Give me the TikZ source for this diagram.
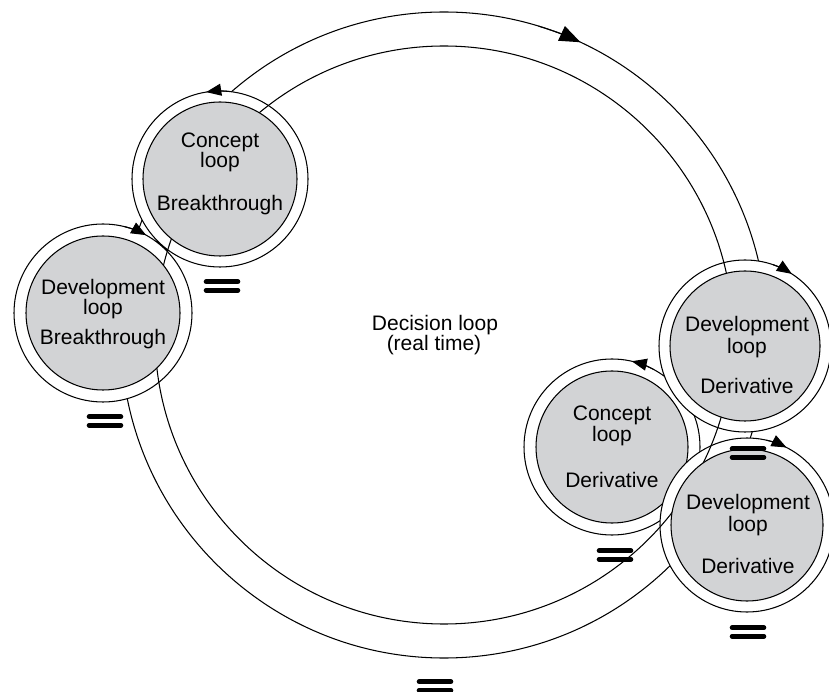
\documentclass[tikz,border=0pt]{standalone}
\usepackage{fontspec}
\setmainfont{Liberation Sans}
\usetikzlibrary{arrows.meta}
\definecolor{loopgray}{RGB}{210,211,213}
\tikzset{
  ln/.style={line width=1.05pt},
  lbl/.style={anchor=base, inner sep=0pt, font=\fontsize{21}{21}\selectfont},
  eqbar/.style={line width=5pt, line cap=round},
  looptip/.style={ln, -{Triangle[length=15pt,width=12pt]}},
  bigtip/.style={ln, -{Triangle[length=21pt,width=16pt]}},
  eqsign/.pic={\draw[eqbar] (-15.8,4.2) -- (15.8,4.2) (-15.8,-4.2) -- (15.8,-4.2);}
}
\begin{document}
\begin{tikzpicture}[x=1pt,y=1pt]
\useasboundingbox (0,0) rectangle (829,691);
\coordinate (big) at (444,356);
\coordinate (cbt) at (220,512);
\coordinate (dbt) at (103,378);
\coordinate (cdv) at (612,244);
\coordinate (tdv) at (745,345);
\coordinate (bdv) at (747,166);

% big ring outer line
\draw[ln] (big) circle[radius=323pt];
% loops covering the outer line
\fill[white] (cbt) circle[radius=88pt] (dbt) circle[radius=89pt];
% concept loop derivative (behind the two right loops)
\draw[ln, fill=white] (cdv) circle[radius=88pt];
\draw[ln, fill=loopgray] (cdv) circle[radius=76pt];
\node[lbl] (cdv1) at (612,270) {Concept};
\node[lbl] (cdv2) at (612,250) {loop};
\node[lbl] (cdv3) at (612,204) {Derivative};
\draw[looptip] ([shift={(62:88pt)}]cdv) arc[start angle=62, end angle=77, radius=88pt];
\fill[white] (tdv) circle[radius=86pt] (bdv) circle[radius=87pt];
% big ring inner line
\draw[ln] (big) circle[radius=289pt];
% loop outer lines
\draw[ln] (cbt) circle[radius=88pt] (dbt) circle[radius=89pt]
          (tdv) circle[radius=86pt] (bdv) circle[radius=87pt];
% loop cores
\draw[ln, fill=loopgray] (cbt) circle[radius=77pt] (dbt) circle[radius=77pt]
          (tdv) circle[radius=75pt] (bdv) circle[radius=76pt];

% arrows
\draw[bigtip] ([shift={(73:323pt)}]big) arc[start angle=73, end angle=65, radius=323pt];
\draw[looptip] ([shift={(84:88pt)}]cbt) arc[start angle=84, end angle=99, radius=88pt];
\draw[looptip] ([shift={(76:89pt)}]dbt) arc[start angle=76, end angle=61, radius=89pt];
\draw[looptip] ([shift={(71:86pt)}]tdv) arc[start angle=71, end angle=57, radius=86pt];
\draw[looptip] ([shift={(77:87pt)}]bdv) arc[start angle=77, end angle=63, radius=87pt];

% texts
\node[lbl] (cbt1) at (220,543) {Concept};
\node[lbl] (cbt2) at (220,523) {loop};
\node[lbl] (cbt3) at (220,480) {Breakthrough};
\node[lbl] (dbt1) at (103,396) {Development};
\node[lbl] (dbt2) at (103,376) {loop};
\node[lbl] (dbt3) at (103,346) {Breakthrough};
\node[lbl] (tdv1) at (747,359) {Development};
\node[lbl] (tdv2) at (747,337) {loop};
\node[lbl] (tdv3) at (747,297) {Derivative};
\node[lbl] (bdv1) at (748,182) {Development};
\node[lbl] (bdv2) at (748,160) {loop};
\node[lbl] (bdv3) at (748,118) {Derivative};
\node[lbl] (dec1) at (435,360) {Decision loop};
\node[lbl] (dec2) at (434,340) {(real time)};

% equals signs
\pic at (222,405) {eqsign};
\pic at (105,270) {eqsign};
\pic at (615,136) {eqsign};
\pic at (748,238) {eqsign};
\pic at (748,59) {eqsign};
\pic at (435,5) {eqsign};
\end{tikzpicture}
\end{document}
